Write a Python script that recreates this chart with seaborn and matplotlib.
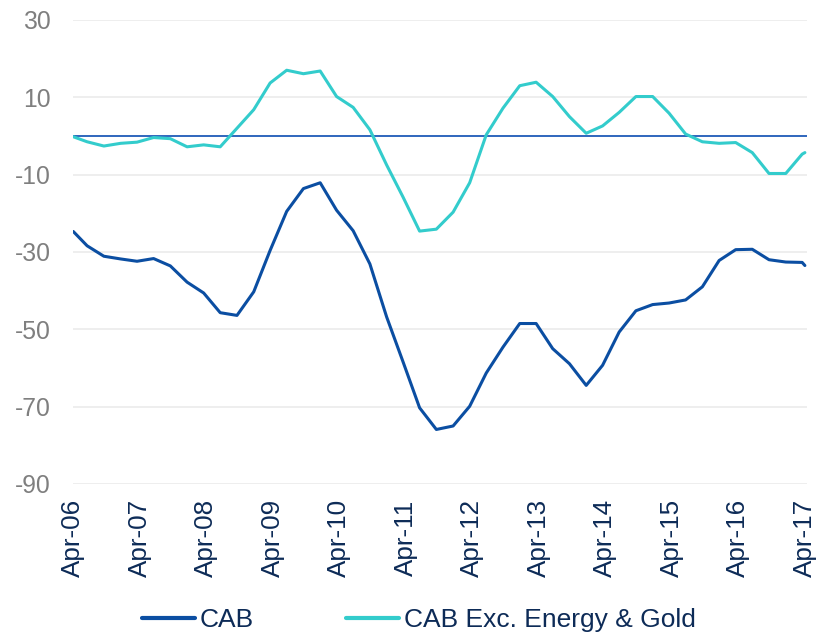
import numpy as np
import pandas as pd
import matplotlib
matplotlib.use('Agg')
import matplotlib.pyplot as plt
import seaborn as sns

# 数据：季度末读数（首尾为月度读数）
dates = (
    [pd.Timestamp('2006-04-15')]
    + list(pd.date_range('2006-06-30', periods=44, freq='QE'))
    + [pd.Timestamp('2017-04-15')]
)

cab = [-24.7, -28.4, -31.1, -31.8, -32.4, -31.7, -33.6, -37.8, -40.6, -45.7,
       -46.4, -40.3, -29.6, -19.5, -13.6, -12.1, -19.2, -24.5, -33.1, -46.8,
       -58.4, -70.3, -75.9, -75.0, -69.9, -61.3, -54.6, -48.5, -48.5, -55.0,
       -58.9, -64.5, -59.3, -50.7, -45.2, -43.6, -43.2, -42.4, -39.0, -32.2,
       -29.4, -29.3, -32.0, -32.6, -32.7, -33.5]

cab_ex = [-0.2, -1.5, -2.6, -1.9, -1.6, -0.4, -0.7, -2.8, -2.3, -2.8,
          2.0, 6.8, 13.7, 17.0, 16.1, 16.8, 10.2, 7.4, 1.6, -7.5,
          -15.8, -24.6, -24.1, -19.7, -12.1, 0.3, 7.2, 13.0, 13.9, 10.2,
          5.0, 0.7, 2.6, 6.1, 10.2, 10.2, 5.9, 0.5, -1.5, -1.9,
          -1.7, -4.3, -9.7, -9.7, -4.7, -4.3]

series_names = ['CAB', 'CAB Exc. Energy & Gold']
colors = ['#0B4EA2', '#33CCCC']

tick_dates = [pd.Timestamp(f'{y}-04-15') for y in range(2006, 2018)]
tick_labels = [f'Apr-{y % 100:02d}' for y in range(2006, 2018)]
y_ticks = [30, 10, -10, -30, -50, -70, -90]

df = pd.DataFrame({
    'date': dates * 2,
    'value': cab + cab_ex,
    'series': [series_names[0]] * len(cab) + [series_names[1]] * len(cab_ex),
})

sns.set_style('white')
plt.rcParams['font.family'] = ['Liberation Sans', 'DejaVu Sans']

fig = plt.figure(figsize=(8.17, 6.36), dpi=100)
ax = fig.add_axes([0.0897, 0.239, 0.9874 - 0.0897, 0.9686 - 0.239])

# 网格线和零线
for y in y_ticks:
    ax.axhline(y, color='#EDEDED', lw=1.3, zorder=0)
ax.axhline(0, color='#1F5BB8', lw=1.3, zorder=1)

sns.lineplot(data=df, x='date', y='value', hue='series', hue_order=series_names,
             palette=colors, linewidth=2.2, ax=ax, legend=False, zorder=2)

ax.set_ylim(-90, 30)
ax.set_xlim(pd.Timestamp('2006-04-15'), pd.Timestamp('2017-04-25'))
ax.set_yticks(y_ticks)
ax.set_yticklabels([str(v) for v in y_ticks], fontsize=17.8, color='#7F7F7F')
ax.set_xticks(tick_dates)
ax.set_xticklabels(tick_labels, rotation=90, fontsize=18.7, color='#0D2B57')
ax.tick_params(axis='y', length=0, pad=16)
ax.tick_params(axis='x', length=0, pad=11)
ax.set_xlabel('')
ax.set_ylabel('')
for s in ax.spines.values():
    s.set_visible(False)

handles = [plt.Line2D([], [], color=c, lw=3) for c in colors]
fig.legend(handles, series_names, loc='center', bbox_to_anchor=(0.513, 0.025),
           ncol=2, frameon=False, fontsize=19, handlelength=2.0,
           handletextpad=0.2, columnspacing=3.5, labelcolor='#0D2B57',
           borderaxespad=0, borderpad=0)

plt.savefig('out.png', dpi=100)
